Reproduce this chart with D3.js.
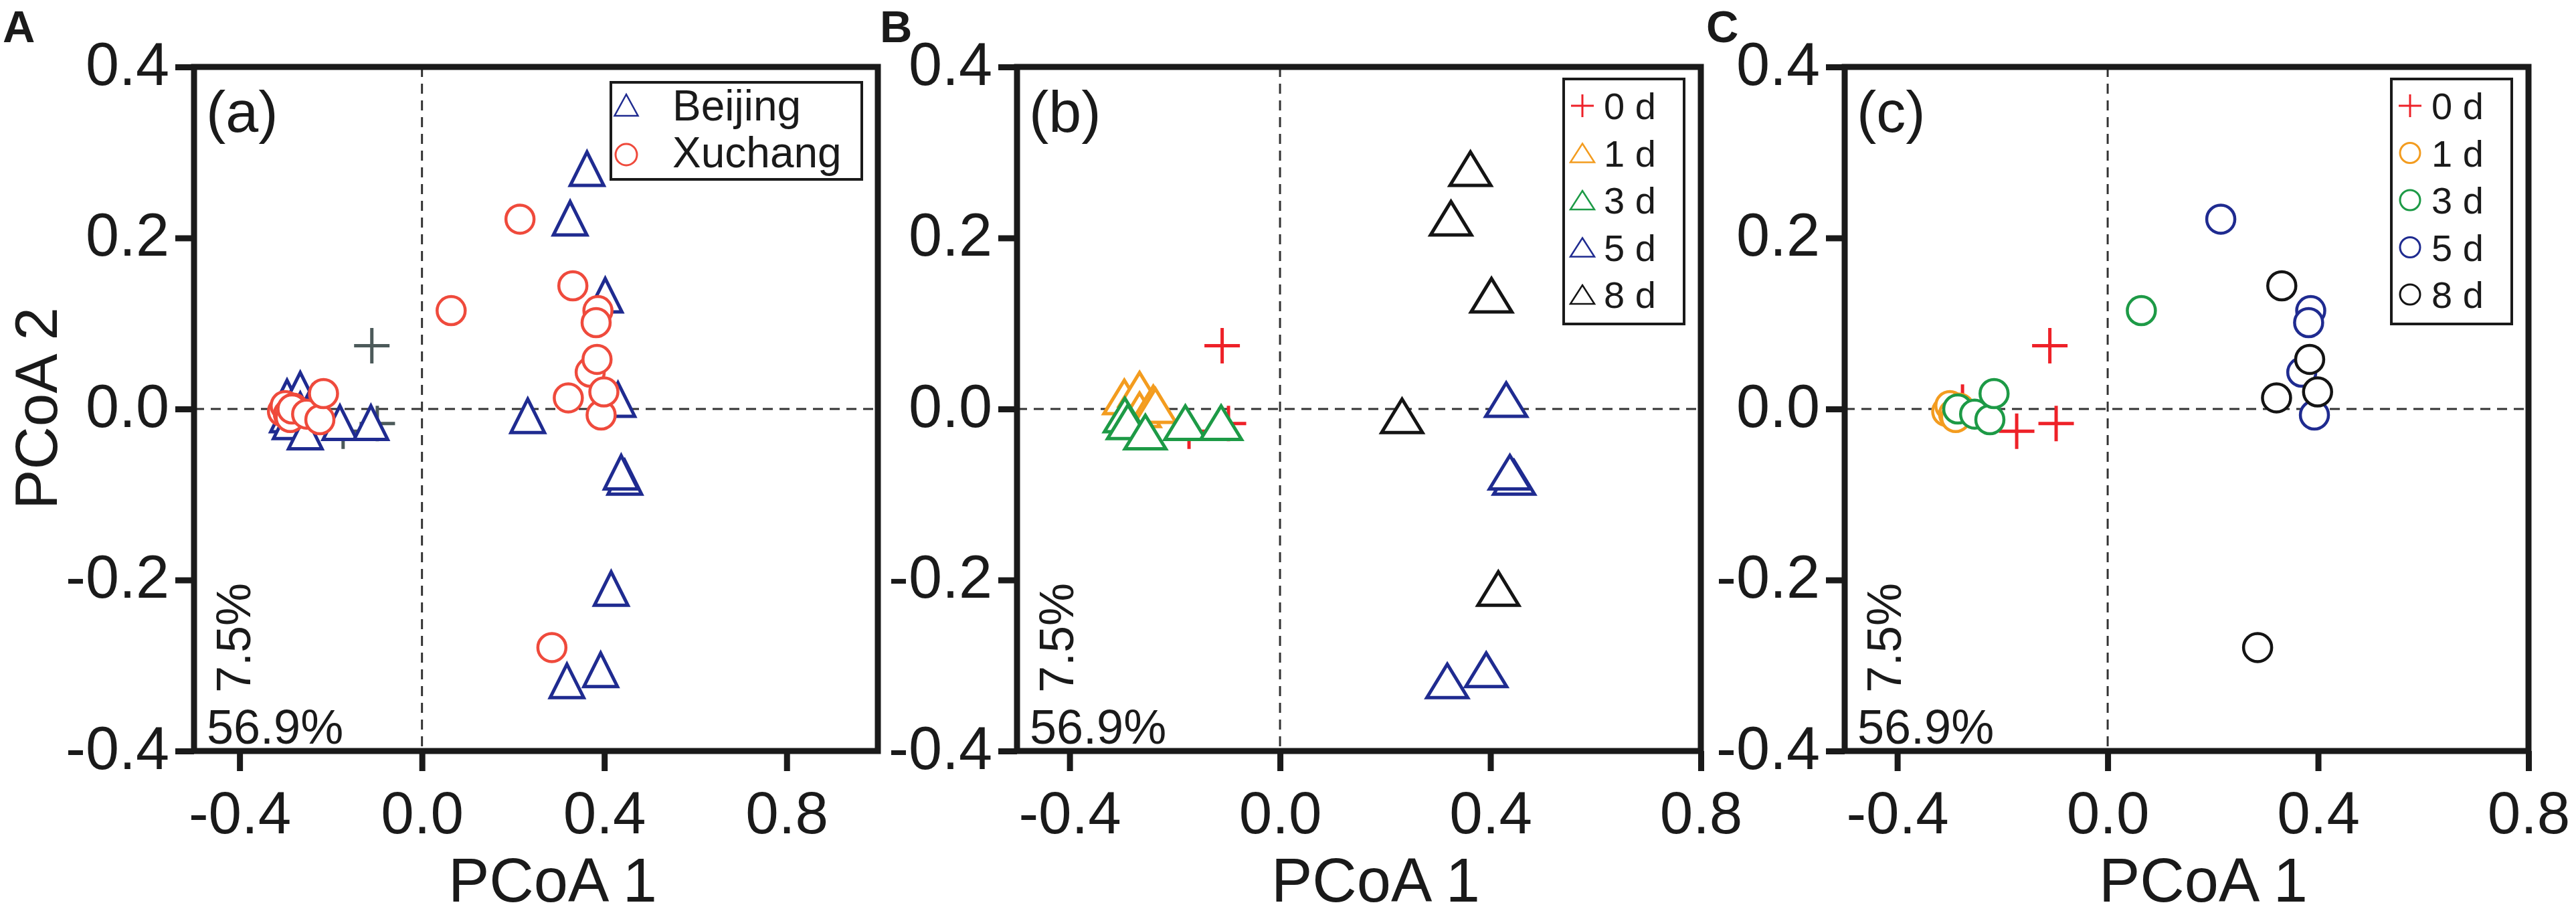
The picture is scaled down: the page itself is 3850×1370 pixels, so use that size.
<!DOCTYPE html>
<html>
<head>
<meta charset="utf-8">
<script src="https://cdn.jsdelivr.net/npm/d3@7"></script>
<style>
  body { margin: 0; background: #fff; }
  text { font-family: 'Liberation Sans', Arial, sans-serif; fill: #1a1a1a; }
</style>
</head>
<body>
<div id="chart"></div>
<script>
// ---- data ----
const dayLabels = ["0 d", "1 d", "3 d", "5 d", "8 d"];
const siteLabels = ["Beijing", "Xuchang"];
const xTicks = [-0.4, 0.0, 0.4, 0.8];
const yTicks = [-0.4, -0.2, 0.0, 0.2, 0.4];
const axis1Pct = "56.9%";
const axis2Pct = "7.5%";

// 0 d samples (crosses)
const day0X = [-0.276, -0.173, -0.098, -0.110];
const day0Y = [0.008, -0.026, -0.017, 0.074];

// Beijing (triangles)
const bj1X = [-0.296, -0.267, -0.267, -0.241, -0.237];
const bj1Y = [0.014, 0.023, -0.001, 0.007, 0.004];
const bj3X = [-0.295, -0.289, -0.256, -0.180, -0.112];
const bj3Y = [-0.007, -0.015, -0.027, -0.016, -0.016];
const bj5X = [0.430, 0.445, 0.437, 0.392, 0.318];
const bj5Y = [0.011, -0.080, -0.074, -0.305, -0.318];
const bj8X = [0.362, 0.325, 0.402, 0.232, 0.415];
const bj8Y = [0.281, 0.223, 0.133, -0.008, -0.210];

// Xuchang (circles)
const xc1X = [-0.306, -0.300, -0.293, -0.289, -0.282];
const xc1Y = [-0.003, 0.004, -0.006, -0.010, 0.001];
const xc3X = [-0.285, -0.253, -0.224, -0.216, 0.064];
const xc3Y = [0.000, -0.006, -0.0125, 0.018, 0.115];
const xc5X = [0.215, 0.386, 0.382, 0.369, 0.393];
const xc5Y = [0.222, 0.115, 0.101, 0.043, -0.007];
const xc8X = [0.331, 0.384, 0.321, 0.399, 0.285];
const xc8Y = [0.144, 0.058, 0.013, 0.020, -0.279];

const dayColors = ["#ee2128", "#f39c1f", "#1d9a46", "#1f2b90", "#141414"];
const beijingColor = "#1f2b90";
const xuchangColor = "#ef4a3c";
const zeroColor = "#4c5a5a";

const zip = (xs, ys) => xs.map((x, i) => ({ x: x, y: ys[i] }));
const beijing = [
    { day: 1, pts: zip(bj1X, bj1Y) },
    { day: 2, pts: zip(bj3X, bj3Y) },
    { day: 3, pts: zip(bj5X, bj5Y) },
    { day: 4, pts: zip(bj8X, bj8Y) }
];
const xuchang = [
    { day: 1, pts: zip(xc1X, xc1Y) },
    { day: 2, pts: zip(xc3X, xc3Y) },
    { day: 3, pts: zip(xc5X, xc5Y) },
    { day: 4, pts: zip(xc8X, xc8Y) }
];
const zeroDay = zip(day0X, day0Y);

// ---- layout ----
const W = 3850, H = 1370;
const plotTop = 100, plotBottom = 1122, frameW = 1022;

const svg = d3.select("#chart").append("svg")
    .attr("width", W)
    .attr("height", H);

const triPath = (w, h) => `M0,${-h / 2}L${w / 2},${h / 2}L${-w / 2},${h / 2}Z`;
const crossPath = s => `M${-s / 2},0H${s / 2}M0,${-s / 2}V${s / 2}`;

function drawCrosses(g, x, y, pts, color) {
    g.selectAll(null).data(pts).join("path")
        .attr("d", crossPath(53))
        .attr("transform", d => `translate(${x(d.x)},${y(d.y)})`)
        .attr("fill", "none")
        .attr("stroke", color)
        .attr("stroke-width", 5);
}

function drawTriangles(g, x, y, pts, color, w) {
    g.selectAll(null).data(pts).join("path")
        .attr("d", triPath(w, 50))
        .attr("transform", d => `translate(${x(d.x)},${y(d.y)})`)
        .attr("fill", "#fff")
        .attr("stroke", color)
        .attr("stroke-width", 5)
        .attr("stroke-linejoin", "miter");
}

function drawCircles(g, x, y, pts, color) {
    g.selectAll(null).data(pts).join("circle")
        .attr("cx", d => x(d.x))
        .attr("cy", d => y(d.y))
        .attr("r", 21)
        .attr("fill", "#fff")
        .attr("stroke", color)
        .attr("stroke-width", 4.5);
}

function drawPanel(p) {
    const left = p.left, right = left + frameW;
    const x = d3.scaleLinear().domain(p.xDomain).range([left, right]);
    const y = d3.scaleLinear().domain([-0.4, 0.4]).range([plotBottom, plotTop]);
    const g = svg.append("g");

    // zero lines
    g.append("line")
        .attr("x1", x(0)).attr("x2", x(0)).attr("y1", plotTop).attr("y2", plotBottom)
        .attr("stroke", "#333").attr("stroke-width", 3).attr("stroke-dasharray", "15,10");
    g.append("line")
        .attr("x1", left).attr("x2", right).attr("y1", y(0)).attr("y2", y(0))
        .attr("stroke", "#333").attr("stroke-width", 3).attr("stroke-dasharray", "15,10");

    // markers
    const m = g.append("g");
    p.marks(m, x, y);

    // frame
    g.append("rect")
        .attr("x", left).attr("y", plotTop)
        .attr("width", frameW).attr("height", plotBottom - plotTop)
        .attr("fill", "none").attr("stroke", "#1a1a1a").attr("stroke-width", 9);

    // axes
    const xAxis = g.append("g")
        .attr("transform", `translate(0,${plotBottom})`)
        .call(d3.axisBottom(x).tickValues(xTicks).tickSize(30).tickSizeOuter(0).tickPadding(30)
            .tickFormat(d => d.toFixed(1)));
    xAxis.select(".domain").remove();
    xAxis.selectAll("line").attr("stroke", "#1a1a1a").attr("stroke-width", 9);
    xAxis.selectAll("text").attr("font-size", 89).attr("fill", "#1a1a1a")
        .style("font-family", "'Liberation Sans', Arial, sans-serif");

    const yAxis = g.append("g")
        .attr("transform", `translate(${left},0)`)
        .call(d3.axisLeft(y).tickValues(yTicks).tickSize(28).tickSizeOuter(0).tickPadding(9)
            .tickFormat(d => d.toFixed(1)));
    yAxis.select(".domain").remove();
    yAxis.selectAll("line").attr("stroke", "#1a1a1a").attr("stroke-width", 9);
    yAxis.selectAll("text").attr("font-size", 90).attr("dy", "0.29em").attr("fill", "#1a1a1a")
        .style("font-family", "'Liberation Sans', Arial, sans-serif");

    // panel texts
    svg.append("text").attr("x", p.tagX).attr("y", 63)
        .attr("font-size", 67).attr("font-weight", "bold").text(p.tag);
    svg.append("text").attr("x", left + 18).attr("y", 197)
        .attr("font-size", 88).text(p.sub);
    svg.append("text").attr("x", left + 19).attr("y", 1111)
        .attr("font-size", 72).text(axis1Pct);
    svg.append("text")
        .attr("transform", `translate(${left + 84},1035) rotate(-90)`)
        .attr("font-size", 72).text(axis2Pct);
    svg.append("text").attr("x", (left + right) / 2 + 25).attr("y", 1347)
        .attr("text-anchor", "middle").attr("font-size", 92).text("PCoA 1");

    p.legend(left);
}

// Panel A: sites
drawPanel({
    left: 290, xDomain: [-0.5, 1.0], tag: "A", tagX: 4, sub: "(a)",
    marks: (m, x, y) => {
        drawCrosses(m, x, y, zeroDay, zeroColor);
        beijing.forEach(s => drawTriangles(m, x, y, s.pts, beijingColor, 50));
        xuchang.forEach(s => drawCircles(m, x, y, s.pts, xuchangColor));
    },
    legend: left => {
        const lg = svg.append("g");
        lg.append("rect").attr("x", left + 623).attr("y", 123).attr("width", 375).attr("height", 145)
            .attr("fill", "#fff").attr("stroke", "#1a1a1a").attr("stroke-width", 4);
        lg.append("path").attr("d", triPath(35, 32))
            .attr("transform", `translate(${left + 646},157)`)
            .attr("fill", "none").attr("stroke", beijingColor).attr("stroke-width", 2.5);
        lg.append("circle").attr("cx", left + 646).attr("cy", 231).attr("r", 16)
            .attr("fill", "none").attr("stroke", xuchangColor).attr("stroke-width", 3);
        siteLabels.forEach((s, i) => {
            lg.append("text").attr("x", left + 715).attr("y", 180 + i * 70)
                .attr("font-size", 64).text(s);
        });
    }
});

function dayLegend(left, shape) {
    const lg = svg.append("g");
    const lx = left + 817;
    lg.append("rect").attr("x", lx).attr("y", 118).attr("width", 180).attr("height", 366)
        .attr("fill", "#fff").attr("stroke", "#1a1a1a").attr("stroke-width", 4);
    dayLabels.forEach((d, i) => {
        const cy = 158 + i * 70.5;
        const c = dayColors[i];
        if (i === 0) {
            lg.append("path").attr("d", crossPath(34)).attr("transform", `translate(${lx + 28},${cy})`)
                .attr("fill", "none").attr("stroke", c).attr("stroke-width", 3);
        } else if (shape === "tri") {
            lg.append("path").attr("d", triPath(36, 28)).attr("transform", `translate(${lx + 28},${cy})`)
                .attr("fill", "none").attr("stroke", c).attr("stroke-width", 2.5);
        } else {
            lg.append("circle").attr("cx", lx + 28).attr("cy", cy).attr("r", 15)
                .attr("fill", "none").attr("stroke", c).attr("stroke-width", 3);
        }
        lg.append("text").attr("x", lx + 60).attr("y", cy + 20)
            .attr("font-size", 56).text(d);
    });
}

// Panel B: Beijing by day
drawPanel({
    left: 1520, xDomain: [-0.5, 0.8], tag: "B", tagX: 1315, sub: "(b)",
    marks: (m, x, y) => {
        drawCrosses(m, x, y, zeroDay, dayColors[0]);
        beijing.forEach(s => drawTriangles(m, x, y, s.pts, dayColors[s.day], 61));
    },
    legend: left => dayLegend(left, "tri")
});

// Panel C: Xuchang by day
drawPanel({
    left: 2757, xDomain: [-0.5, 0.8], tag: "C", tagX: 2550, sub: "(c)",
    marks: (m, x, y) => {
        drawCrosses(m, x, y, zeroDay, dayColors[0]);
        xuchang.forEach(s => drawCircles(m, x, y, s.pts, dayColors[s.day]));
    },
    legend: left => dayLegend(left, "circ")
});

// y title (panel A only)
svg.append("text")
    .attr("transform", "translate(85,610) rotate(-90)")
    .attr("text-anchor", "middle")
    .attr("font-size", 89)
    .text("PCoA 2");
</script>
</body>
</html>
